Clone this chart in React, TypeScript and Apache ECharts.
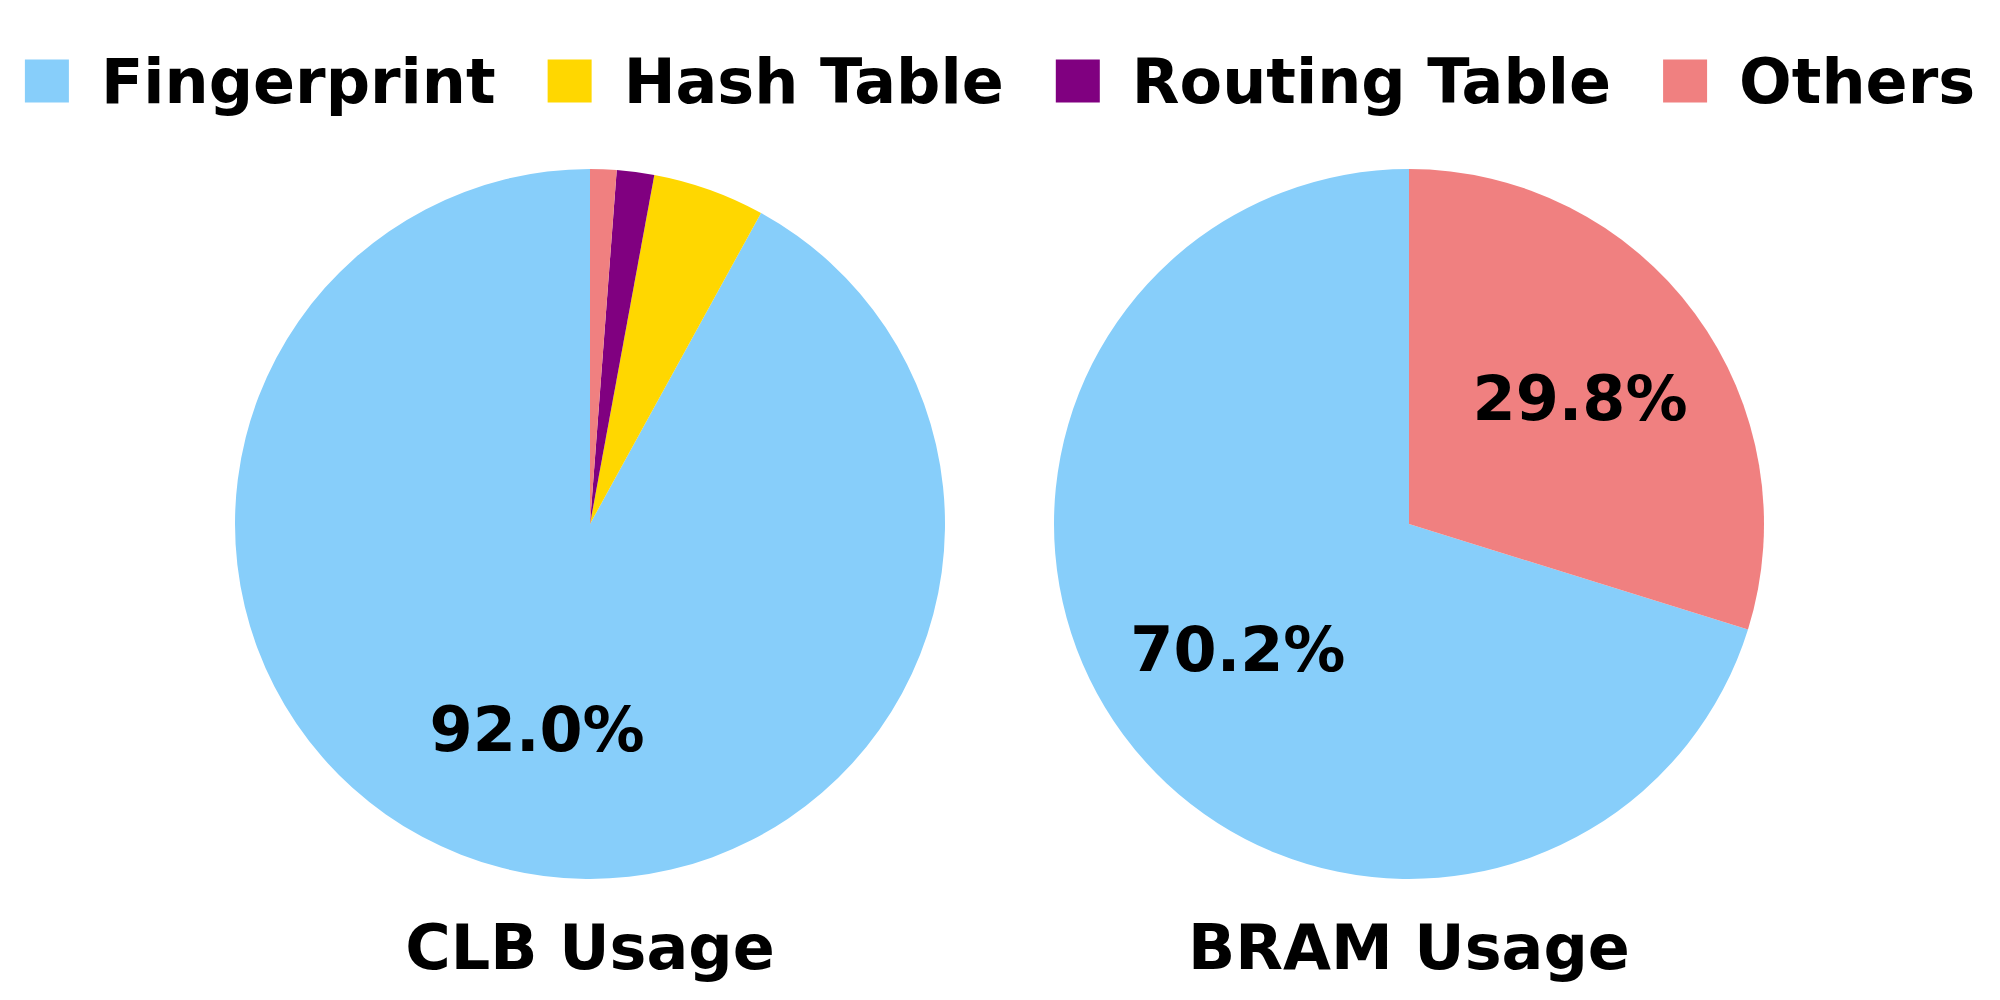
import React, { useEffect, useRef } from "react";
import * as echarts from "echarts";

const categories = ["Fingerprint", "Hash Table", "Routing Table", "Others"];
const colors = ["#87CEFA", "#FFD700", "#800080", "#F08080"];
const clbValues = [92.0, 5.1, 1.7, 1.2];
const bramValues = [70.2, 0, 0, 29.8];
const titles = ["CLB Usage", "BRAM Usage"];

const FONT = "DejaVu Sans";
const R = 355;
const centers: [number, number][] = [
  [590, 524],
  [1409, 524],
];

function makeData(values: number[]) {
  return categories.map((name, i) => ({
    name,
    value: values[i],
    itemStyle: { color: colors[i] },
  }));
}

export default function App() {
  const ref = useRef<HTMLDivElement>(null);
  useEffect(() => {
    if (!ref.current) return;
    const chart = echarts.init(ref.current, undefined, { renderer: "svg" });
    const sets = [clbValues, bramValues];
    const series: any[] = [];
    sets.forEach((vals, k) => {
      series.push({
        type: "pie",
        center: centers[k],
        radius: [0, R],
        startAngle: 90,
        clockwise: false,
        minAngle: 0,
        avoidLabelOverlap: false,
        silent: true,
        label: { show: false },
        labelLine: { show: false },
        itemStyle: { borderWidth: 0 },
        emphasis: { disabled: true },
        data: makeData(vals),
      });
      series.push({
        type: "pie",
        center: centers[k],
        radius: [R * 0.18, R],
        startAngle: 90,
        clockwise: false,
        avoidLabelOverlap: false,
        silent: true,
        itemStyle: { color: "transparent", borderWidth: 0 },
        emphasis: { disabled: true },
        labelLine: { show: false },
        label: {
          show: true,
          position: "inside",
          fontFamily: FONT,
          fontWeight: "bold",
          fontSize: 62,
          color: "#000",
          padding: [0, 0, 12, 0],
          formatter: (p: any) => (p.value >= 10 ? p.value.toFixed(1) + "%" : ""),
        },
        data: vals.map((v, i) => ({ name: categories[i], value: v })),
      });
    });
    chart.setOption({
      animation: false,
      backgroundColor: "#fff",
      legend: {
        data: categories.map((c, i) => ({ name: c, itemStyle: { color: colors[i] } })),
        left: "center",
        top: 45,
        icon: "rect",
        itemWidth: 44,
        itemHeight: 43,
        itemGap: 52,
        selectedMode: false,
        textStyle: {
          fontFamily: FONT,
          fontWeight: "bold",
          fontSize: 62,
          color: "#000",
          padding: [0, 0, 5, 27],
        },
      },
      graphic: titles.map((t, k) => ({
        type: "text",
        x: centers[k][0],
        y: 947,
        style: {
          text: t,
          fontFamily: FONT,
          fontWeight: "bold",
          fontSize: 62,
          fill: "#000",
          align: "center",
          verticalAlign: "middle",
        },
      })),
      series,
    });
    return () => chart.dispose();
  }, []);
  return (
    <div
      ref={ref}
      style={{ position: "fixed", left: 0, top: 0, width: 2000, height: 1000 }}
    />
  );
}
